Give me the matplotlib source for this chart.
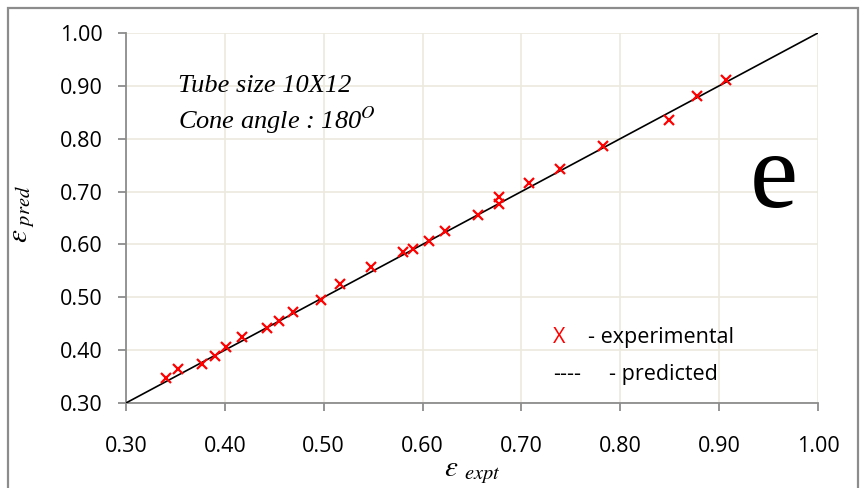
# Parity plot: predicted vs experimental effectiveness
import matplotlib.pyplot as plt
from matplotlib.patches import Rectangle

plt.rcParams['mathtext.fontset'] = 'stix'
plt.rcParams['font.family'] = ['Open Sans', 'DejaVu Sans']

# Data
eps_expt = [0.340, 0.353, 0.377, 0.390, 0.401, 0.417, 0.443, 0.455, 0.469, 0.497,
            0.517, 0.548, 0.580, 0.590, 0.607, 0.623, 0.656, 0.677, 0.677, 0.708,
            0.739, 0.783, 0.849, 0.878, 0.907]
eps_pred = [0.348, 0.364, 0.374, 0.388, 0.405, 0.424, 0.441, 0.455, 0.473, 0.494,
            0.525, 0.557, 0.586, 0.591, 0.606, 0.625, 0.656, 0.690, 0.676, 0.717,
            0.742, 0.786, 0.835, 0.881, 0.912]
line_x = [0.30, 1.00]
line_y = [0.30, 1.00]
ticks = [0.30, 0.40, 0.50, 0.60, 0.70, 0.80, 0.90, 1.00]

fig = plt.figure(figsize=(8.61, 4.88), dpi=100)
ax = fig.add_axes([0.1463, 0.1742, 0.8037, 0.7582])

# outer chart frame (runs off the bottom of the picture)
fig.patches.append(Rectangle((0.0093, -0.05), 0.9872, 1.034, transform=fig.transFigure,
                             fill=False, edgecolor='#8c8c8c', linewidth=1.6))

ax.plot(line_x, line_y, color='black', linewidth=1.2, zorder=3)
ax.plot(eps_expt, eps_pred, linestyle='none', marker='x', color='red',
        markersize=7, markeredgewidth=1.6, zorder=4)

ax.set_xlim(0.30, 1.00)
ax.set_ylim(0.30, 1.00)
ax.set_xticks(ticks)
ax.set_yticks(ticks)
ax.set_xticklabels([f'{t:.2f}' for t in ticks])
ax.set_yticklabels([f'{t:.2f}' for t in ticks])
ax.grid(True, color='#ece9df', linewidth=1.2)
ax.set_axisbelow(True)

for side in ['top', 'right']:
    ax.spines[side].set_visible(False)
for side in ['left', 'bottom']:
    ax.spines[side].set_color('#8c8c8c')
    ax.spines[side].set_linewidth(1.3)
ax.tick_params(axis='both', direction='out', length=6, width=1.3, color='#8c8c8c',
               labelsize=15.5)
ax.tick_params(axis='x', pad=18)
ax.tick_params(axis='y', pad=11)

ax.set_xlabel(r'$\varepsilon\ _{expt}$', fontsize=21, labelpad=0)
ax.set_ylabel(r'$\varepsilon_{\ pred}$', fontsize=21)
ax.yaxis.set_label_coords(-0.128, 0.51)

ax.text(0.075, 0.857, 'Tube size 10X12', transform=ax.transAxes, fontsize=19,
        family='Liberation Serif', style='italic', va='center')
ax.text(0.075, 0.765, r'Cone angle : 180$^{O}$', transform=ax.transAxes, fontsize=19,
        family='Liberation Serif', style='italic', va='center')
ax.text(0.936, 0.60, 'e', transform=ax.transAxes, fontsize=78,
        family='Liberation Serif', ha='center', va='center')

ax.text(0.617, 0.178, 'X', transform=ax.transAxes, fontsize=15.5, color='red', va='center')
ax.text(0.668, 0.178, '- experimental', transform=ax.transAxes, fontsize=15.5, va='center')
ax.text(0.617, 0.076, '----', transform=ax.transAxes, fontsize=15.5, va='center')
ax.text(0.698, 0.076, '- predicted', transform=ax.transAxes, fontsize=15.5, va='center')

fig.savefig('out.png', dpi=100)
